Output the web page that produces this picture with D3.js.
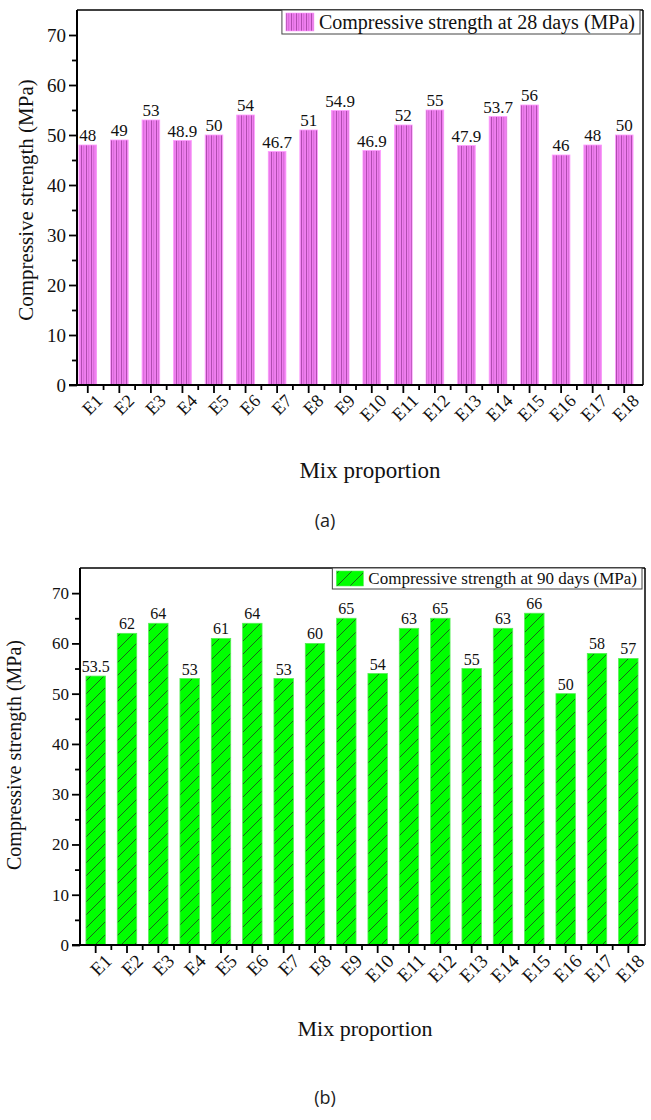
<!DOCTYPE html>
<html><head><meta charset="utf-8">
<script src="https://cdn.jsdelivr.net/npm/d3@7/dist/d3.min.js"></script>
<style>
body{margin:0;background:#fff}
.serif{font-family:"Liberation Serif","Tinos","Times New Roman","DejaVu Serif",serif}
</style></head>
<body>
<svg id="c" width="651" height="1120"></svg>
<script>
const categories = ["E1","E2","E3","E4","E5","E6","E7","E8","E9","E10","E11","E12","E13","E14","E15","E16","E17","E18"];
const strength28 = [48,49,53,48.9,50,54,46.7,51,54.9,46.9,52,55,47.9,53.7,56,46,48,50];
const strength90 = [53.5,62,64,53,61,64,53,60,65,54,63,65,55,63,66,50,58,57];
const yTicks = [0,10,20,30,40,50,60,70];
const yMinorTicks = [5,15,25,35,45,55,65];
const legend28 = "Compressive strength at 28 days (MPa)";
const legend90 = "Compressive strength at 90 days (MPa)";
const yTitle = "Compressive strength (MPa)";
const xTitle = "Mix proportion";

const svg = d3.select("#c");
const defs = svg.append("defs");

// pink vertical-line pattern
const pv = defs.append("pattern").attr("id","pinkV").attr("patternUnits","userSpaceOnUse")
  .attr("width",5).attr("height",5);
pv.append("rect").attr("width",5).attr("height",5).attr("fill","#f07ef0");
pv.append("line").attr("x1",1.5).attr("x2",1.5).attr("y1",0).attr("y2",5).attr("stroke","#a040a0").attr("stroke-width",0.8);
pv.append("line").attr("x1",3.7).attr("x2",3.7).attr("y1",0).attr("y2",5).attr("stroke","#c45cc4").attr("stroke-width",0.6);

// green diagonal pattern
const gd = defs.append("pattern").attr("id","greenD").attr("patternUnits","userSpaceOnUse")
  .attr("width",13).attr("height",13);
gd.append("rect").attr("width",13).attr("height",13).attr("fill","#00ff00");
gd.append("path").attr("d","M0,13 L13,0 M-3,3 L3,-3 M10,16 L16,10").attr("stroke","#1f3f1f").attr("stroke-width",0.8);

function drawChart(o) {
  const g = svg.append("g").attr("class","serif");
  const x = d3.scaleBand().domain(categories).range([o.bandL,o.bandR]).paddingInner(0).paddingOuter(0);
  const y = d3.scaleLinear().domain([0,75]).range([o.bottom,o.top]);
  const bw = x.bandwidth()*o.barFrac;

  // bars
  g.selectAll("rect.bar").data(o.values).join("rect")
    .attr("x",(d,i)=>x(categories[i])+(x.bandwidth()-bw)/2)
    .attr("y",d=>y(d)).attr("width",bw).attr("height",d=>y(0)-y(d))
    .attr("fill",o.fill).attr("stroke",o.barStroke).attr("stroke-width",0.8);

  // value labels
  g.selectAll("text.val").data(o.values).join("text")
    .attr("x",(d,i)=>x(categories[i])+x.bandwidth()/2)
    .attr("y",d=>y(d)-4)
    .attr("text-anchor","middle").attr("font-size",o.valSize)
    .attr("fill","#111").text(d=>d);

  // frame top/right
  g.append("line").attr("x1",o.left).attr("x2",o.right).attr("y1",o.top).attr("y2",o.top).attr("stroke","#000").attr("stroke-width",1.5);
  g.append("line").attr("x1",o.right).attr("x2",o.right).attr("y1",o.top).attr("y2",o.bottom).attr("stroke","#000").attr("stroke-width",1.5);

  // y axis
  const ya = d3.axisLeft(y).tickValues(yTicks).tickSize(8).tickPadding(3).tickFormat(d3.format("d"));
  const yag = g.append("g").attr("transform",`translate(${o.left},0)`).call(ya);
  yag.attr("font-family",null);
  yag.select(".domain").attr("stroke-width",2).attr("d",`M0,${o.bottom}V${o.top}`);
  yag.selectAll(".tick line").attr("stroke-width",1.8);
  yag.selectAll("text").attr("font-size",o.tickSize).attr("fill","#111");
  g.append("g").attr("transform",`translate(${o.left},0)`)
    .call(d3.axisLeft(y).tickValues(yMinorTicks).tickSize(5).tickFormat(""))
    .call(s=>{s.select(".domain").remove(); s.selectAll("line").attr("stroke-width",1.8);});

  // x axis
  const xa = d3.axisBottom(x).tickSize(8).tickPadding(4);
  const xag = g.append("g").attr("transform",`translate(0,${o.bottom})`).call(xa);
  xag.attr("font-family",null);
  xag.select(".domain").attr("stroke-width",2).attr("d",`M${o.left-8},0H${o.right}`);
  xag.selectAll(".tick line").attr("stroke-width",1.8);
  xag.selectAll("text").attr("font-size",o.xTickSize).attr("fill","#111")
    .attr("text-anchor","end").attr("dy","0.35em")
    .attr("transform",`translate(${o.xLabDx},${o.xLabOff}) rotate(-45)`);
  // minor x ticks at band boundaries
  const bounds = categories.slice(1).map(c=>x(c));
  g.append("g").selectAll("line").data(bounds).join("line")
    .attr("x1",d=>d).attr("x2",d=>d).attr("y1",o.bottom).attr("y2",o.bottom+5)
    .attr("stroke","#000").attr("stroke-width",1.8);

  // legend
  const lg = g.append("g");
  const lt = lg.append("text").attr("font-size",o.legSize).attr("fill","#111")
    .attr("x",0).attr("y",0).text(o.legend);
  const tw = lt.node().getComputedTextLength();
  const boxW = o.legSwatchW + 14 + tw;
  const bx = o.right - 3 - boxW, by = o.top;
  lg.insert("rect","text").attr("x",bx).attr("y",by).attr("width",boxW).attr("height",o.legH)
    .attr("fill","#fff").attr("stroke","#444").attr("stroke-width",1);
  lg.insert("rect","text").attr("x",bx+4).attr("y",by+3).attr("width",o.legSwatchW).attr("height",o.legH-6)
    .attr("fill",o.fill).attr("stroke",o.barStroke).attr("stroke-width",0.6);
  lt.attr("x",bx+o.legSwatchW+9).attr("y",by+o.legH/2).attr("dy","0.35em");

  // titles
  g.append("text").attr("transform",`translate(${o.yTitleX},${o.yTitleY}) rotate(-90)`)
    .attr("text-anchor","middle").attr("font-size",o.yTitleSize).attr("fill","#111").text(yTitle);
  g.append("text").attr("x",o.xTitleX).attr("y",o.xTitleY).attr("text-anchor","middle")
    .attr("font-size",o.xTitleSize).attr("fill","#111").text(xTitle);
  svg.append("text").attr("x",o.capX).attr("y",o.capY).attr("text-anchor","middle")
    .attr("font-family","'Open Sans','Noto Sans',sans-serif").attr("font-size",18).attr("fill","#222").text(o.caption);
}

drawChart({values:strength28, fill:"url(#pinkV)", barStroke:"#ff9cff",
  left:77, right:643, top:10, bottom:385, bandL:72, bandR:640, barFrac:0.56,
  valSize:17, tickSize:19, xTickSize:18, xLabDx:3, xLabOff:4, legSize:20, legSwatchW:28, legH:24,
  legend:legend28, yTitleX:33, yTitleY:200, yTitleSize:21, xTitleX:370, xTitleY:478, xTitleSize:23,
  caption:"(a)", capX:325, capY:527});

drawChart({values:strength90, fill:"url(#greenD)", barStroke:"#55ee55",
  left:80, right:645, top:568, bottom:945, bandL:80, bandR:644, barFrac:0.62,
  valSize:16, tickSize:17, xTickSize:19, xLabDx:4, xLabOff:4, legSize:17, legSwatchW:27, legH:21,
  legend:legend90, yTitleX:21, yTitleY:755, yTitleSize:20, xTitleX:365, xTitleY:1036, xTitleSize:22,
  caption:"(b)", capX:325, capY:1104});
</script>
</body></html>
